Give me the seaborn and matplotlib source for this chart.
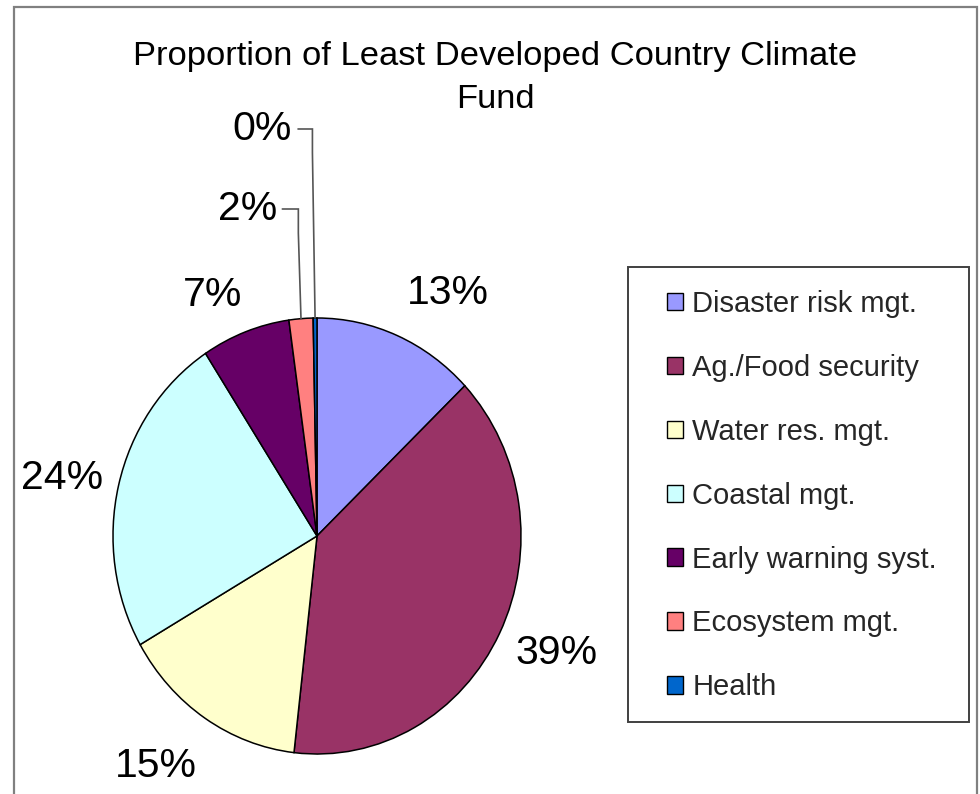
import matplotlib
matplotlib.use("Agg")
import matplotlib.pyplot as plt
from matplotlib.patches import Rectangle, Patch
import numpy as np
import seaborn as sns

# ---- data ----
categories = ["Disaster risk mgt.", "Ag./Food security", "Water res. mgt.",
              "Coastal mgt.", "Early warning syst.", "Ecosystem mgt.", "Health"]
shares = [12.9, 38.9, 14.9, 24.1, 7.0, 1.9, 0.3]
colors_hex = ["#9999FF", "#993366", "#FFFFCC", "#CCFFFF", "#660066", "#FF8080", "#0066CC"]
title_lines = ["Proportion of Least Developed Country Climate", "Fund"]

# label anchor positions, in pie-radius units (layout only)
label_pos = [(0.642, 1.114), (1.172, -0.538), (-0.789, -1.056), (-1.25, 0.265),
             (-0.51, 1.105), (-0.196, 1.50), (-0.123, 1.867)]

sns.set_theme(style="white")
plt.rcParams["font.family"] = ["Liberation Sans", "DejaVu Sans"]
palette = sns.color_palette(colors_hex)

W, H = 980, 794
fig = plt.figure(figsize=(W / 100, H / 100), dpi=100)
fig.patch.set_facecolor("white")

# axes exactly covering the (slightly elliptical) pie bounding box
px_l, px_r, px_t, px_b = 113, 521, 318, 754
ax = fig.add_axes([px_l / W, (H - px_b) / H, (px_r - px_l) / W, (px_b - px_t) / H])

wedges, texts, autotexts = ax.pie(
    shares, colors=palette, startangle=90, counterclock=False,
    autopct="%1.0f%%", pctdistance=1.29,
    wedgeprops=dict(edgecolor="black", linewidth=1.1),
    textprops=dict(fontsize=29.5, color="black"))
ax.set_aspect("auto")
ax.set_xlim(-1, 1)
ax.set_ylim(-1, 1)
ax.axis("off")
for w in wedges:
    w.set_clip_on(False)

for t, (x, y) in zip(autotexts, label_pos):
    t.set_position((x, y))

# small slices: labels right-aligned above with leader lines
leader_start = {5: -0.17, 6: -0.093}
for i, lx in leader_start.items():
    t = autotexts[i]
    t.set_ha("right")
    ty = label_pos[i][1]
    w = wedges[i]
    mid = np.deg2rad((w.theta1 + w.theta2) / 2)
    wx, wy = np.cos(mid), np.sin(mid)
    ex = wx - 0.013
    ax.plot([lx, ex, ex, wx], [ty, ty, ty - 0.11, wy], color="#555555",
            lw=1.2, clip_on=False, solid_joinstyle="miter")

# title (two lines as separate texts)
for line, ypx in zip(title_lines, [57, 100]):
    fig.text(495 / W, (H - ypx) / H, line, ha="center", va="center",
             fontsize=24.8, color="black")

# legend
handles = [Patch(facecolor=c, edgecolor="black", linewidth=1.0) for c in palette]
leg = fig.legend(handles, categories, loc="upper left",
                 bbox_to_anchor=(667 / W, (H - 290) / H),
                 bbox_transform=fig.transFigure, frameon=False,
                 fontsize=21, handlelength=0.55, handleheight=0.55,
                 handletextpad=0.32, labelspacing=1.23,
                 borderpad=0, borderaxespad=0)

# legend box and outer chart frame
fig.patches.append(Rectangle((628 / W, (H - 722) / H), 341 / W, 455 / H,
                             transform=fig.transFigure, fill=False,
                             edgecolor="#404040", linewidth=1.4))
fig.patches.append(Rectangle((14 / W, -0.02), 963 / W, (H - 7) / H + 0.02,
                             transform=fig.transFigure, fill=False,
                             edgecolor="#808080", linewidth=1.6))

fig.savefig("out.png", dpi=100, facecolor="white")
